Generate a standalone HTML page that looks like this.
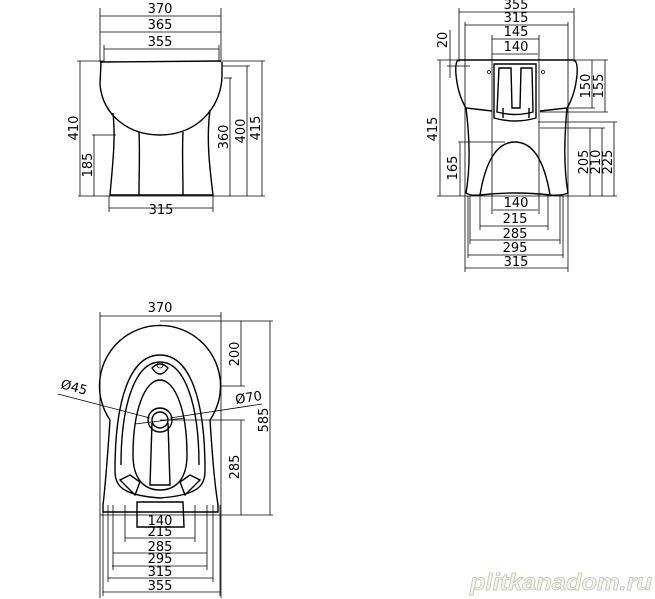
<!DOCTYPE html>
<html><head><meta charset="utf-8"><style>
html,body{margin:0;padding:0;background:#fff;width:655px;height:599px;overflow:hidden}
svg{display:block}
text{font-family:"DejaVu Sans","Liberation Sans",sans-serif;font-size:13px;fill:#000}
.l{stroke:#000;stroke-width:1;fill:none}
.t{stroke:#000;stroke-width:0.8;fill:none}
.b{stroke:#000;stroke-width:1.4;fill:none}
</style></head><body>
<svg width="655" height="599" viewBox="0 0 655 599" xmlns="http://www.w3.org/2000/svg">
<!-- ===== FRONT VIEW ===== -->
<g class="t">
<line x1="100" y1="8" x2="100" y2="62"/><line x1="221" y1="8" x2="221" y2="62"/>
<line x1="104" y1="45" x2="104" y2="62"/><line x1="219" y1="45" x2="219" y2="62"/>
<line x1="100" y1="16" x2="221" y2="16"/>
<line x1="100" y1="32" x2="221" y2="32"/>
<line x1="104" y1="49" x2="219" y2="49"/>
<line x1="109" y1="196" x2="109" y2="212"/><line x1="213" y1="196" x2="213" y2="212"/>
<line x1="109" y1="208" x2="213" y2="208"/>
<line x1="77" y1="61" x2="104" y2="61"/>
<line x1="80" y1="61" x2="80" y2="196"/>
<line x1="92" y1="135" x2="116" y2="135"/>
<line x1="94" y1="135" x2="94" y2="196"/>
<line x1="222" y1="61" x2="265" y2="61"/>
<line x1="222" y1="66" x2="250" y2="66"/>
<line x1="224" y1="78" x2="232" y2="78"/>
<line x1="230" y1="78" x2="230" y2="196"/>
<line x1="247" y1="66" x2="247" y2="196"/>
<line x1="262" y1="61" x2="262" y2="196"/>
<line x1="78" y1="196" x2="265" y2="196"/>
</g>
<g class="b">
<path d="M100,62 L221,61 M101,62 L100,85 C103,115 128,135 160,135 C195,135 220,110 222,78 L222,62"/>
<path d="M113,113 C116,140 112,170 110,195 L213,195 C210,170 206,140 210,110"/>
<path d="M139,132 C140,150 139,175 139,195 M183,132 C182,150 183,175 183,195"/>
</g>
<text x="160" y="13" text-anchor="middle">370</text>
<text x="160" y="29" text-anchor="middle">365</text>
<text x="160" y="46" text-anchor="middle">355</text>
<text x="161" y="214" text-anchor="middle">315</text>
<text transform="translate(78,128) rotate(-90)" text-anchor="middle">410</text>
<text transform="translate(92,165) rotate(-90)" text-anchor="middle">185</text>
<text transform="translate(228,137) rotate(-90)" text-anchor="middle">360</text>
<text transform="translate(245,131) rotate(-90)" text-anchor="middle">400</text>
<text transform="translate(260,128) rotate(-90)" text-anchor="middle">415</text>

<!-- ===== SIDE VIEW ===== -->
<g class="t">
<line x1="459" y1="8" x2="459" y2="62"/><line x1="574" y1="8" x2="574" y2="62"/>
<line x1="459" y1="12" x2="574" y2="12"/>
<line x1="465" y1="25" x2="568" y2="25"/>
<line x1="465" y1="22" x2="465" y2="272"/><line x1="568" y1="22" x2="568" y2="272"/>
<line x1="492" y1="35" x2="492" y2="214"/><line x1="539" y1="35" x2="539" y2="214"/>
<line x1="492" y1="39" x2="539" y2="39"/>
<line x1="492" y1="54" x2="538" y2="54"/>
<line x1="493" y1="210" x2="538" y2="210"/>
<line x1="480" y1="196" x2="480" y2="230"/><line x1="548" y1="196" x2="548" y2="230"/>
<line x1="480" y1="226" x2="548" y2="226"/>
<line x1="470" y1="196" x2="470" y2="244"/><line x1="560" y1="196" x2="560" y2="244"/>
<line x1="470" y1="240" x2="560" y2="240"/>
<line x1="468" y1="196" x2="468" y2="258"/><line x1="563" y1="196" x2="563" y2="258"/>
<line x1="468" y1="255" x2="563" y2="255"/>
<line x1="465" y1="268" x2="568" y2="268"/>
<line x1="437" y1="60" x2="470" y2="60"/>
<line x1="447" y1="66" x2="470" y2="66"/>
<line x1="450" y1="30" x2="450" y2="78"/>
<line x1="440" y1="60" x2="440" y2="196"/>
<line x1="458" y1="142" x2="505" y2="142"/>
<line x1="460" y1="142" x2="460" y2="196"/>
<line x1="574" y1="60" x2="608" y2="60"/>
<line x1="568" y1="108" x2="595" y2="108"/>
<line x1="540" y1="112" x2="608" y2="112"/>
<line x1="592" y1="60" x2="592" y2="108"/>
<line x1="605" y1="60" x2="605" y2="112"/>
<line x1="538" y1="122" x2="617" y2="122"/>
<line x1="540" y1="128" x2="605" y2="128"/>
<line x1="590" y1="128" x2="590" y2="196"/>
<line x1="602" y1="128" x2="602" y2="196"/>
<line x1="614" y1="122" x2="614" y2="196"/>
<line x1="437" y1="196" x2="617" y2="196"/>
</g>
<g class="b">
<path d="M458,60 L574,60 Q578,62 577,75 Q575,95 567,108 L540,111 M458,60 Q455,62 456,75 Q458,95 466,108 L492,111"/>
<path d="M466,108 C470,140 470,170 466,193 Q470,196 480,195 C485,165 495,142 515,142 C535,142 545,165 550,195 Q562,196 568,193 C564,170 564,140 567,108"/>
<path d="M480,195 Q515,191 550,195"/>
<path d="M494,64 L536,64 L536,118 Q515,124 494,118 Z"/>
<path d="M499,68 L511,68 L512,108 L520,108 L521,68 L532,68 L533,112 Q515,117 497,112 Z"/>
<path d="M503,108 L503,118 M529,108 L529,118"/>
</g>
<circle cx="489" cy="72" r="1.5" class="t"/><circle cx="543" cy="72" r="1.5" class="t"/>
<text x="516" y="9" text-anchor="middle">355</text>
<text x="516" y="22" text-anchor="middle">315</text>
<text x="516" y="36" text-anchor="middle">145</text>
<text x="516" y="51" text-anchor="middle">140</text>
<text x="516" y="207" text-anchor="middle">140</text>
<text x="515" y="223" text-anchor="middle">215</text>
<text x="515" y="238" text-anchor="middle">285</text>
<text x="515" y="252" text-anchor="middle">295</text>
<text x="516" y="266" text-anchor="middle">315</text>
<text transform="translate(447,40) rotate(-90)" text-anchor="middle">20</text>
<text transform="translate(437,129) rotate(-90)" text-anchor="middle">415</text>
<text transform="translate(457,168) rotate(-90)" text-anchor="middle">165</text>
<text transform="translate(590,86) rotate(-90)" text-anchor="middle">150</text>
<text transform="translate(603,86) rotate(-90)" text-anchor="middle">155</text>
<text transform="translate(588,162) rotate(-90)" text-anchor="middle">205</text>
<text transform="translate(600,162) rotate(-90)" text-anchor="middle">210</text>
<text transform="translate(612,162) rotate(-90)" text-anchor="middle">225</text>

<!-- ===== TOP VIEW ===== -->
<g class="t">
<line x1="100" y1="312" x2="100" y2="598"/><line x1="221" y1="312" x2="221" y2="598"/>
<line x1="100" y1="316" x2="221" y2="316"/>
<line x1="160" y1="321" x2="273" y2="321"/>
<line x1="221" y1="386" x2="245" y2="386"/>
<line x1="241" y1="321" x2="241" y2="386"/>
<line x1="160" y1="420" x2="245" y2="420"/>
<line x1="241" y1="420" x2="241" y2="515"/>
<line x1="270" y1="321" x2="270" y2="515"/>
<line x1="100" y1="515" x2="273" y2="515"/>
<line x1="137" y1="527" x2="183" y2="527"/>
<line x1="125" y1="505" x2="125" y2="542"/><line x1="195" y1="505" x2="195" y2="542"/>
<line x1="125" y1="538" x2="195" y2="538"/>
<line x1="113" y1="505" x2="113" y2="570"/><line x1="207" y1="505" x2="207" y2="570"/>
<line x1="113" y1="553" x2="207" y2="553"/>
<line x1="112" y1="566" x2="207" y2="566"/>
<line x1="108" y1="505" x2="108" y2="582"/><line x1="213" y1="505" x2="213" y2="582"/>
<line x1="108" y1="578" x2="213" y2="578"/>
<line x1="103" y1="505" x2="103" y2="596"/><line x1="220" y1="505" x2="220" y2="596"/>
<line x1="103" y1="592" x2="220" y2="592"/>
<line x1="58" y1="394" x2="150" y2="418"/>
<line x1="262" y1="404" x2="170" y2="418"/>
<line x1="135" y1="424" x2="185" y2="418"/>
</g>
<g class="b">
<path d="M110,420 A60.5,60.5 0 1 1 210,420"/>
<path d="M110,420 C108,450 106,480 103,505 L103,512 L218,512 L218,505 C214,480 212,450 210,420"/>
<path d="M115,470 C115,400 130,355 160,355 C190,355 205,400 205,470 C205,485 200,495 160,498 C120,495 115,485 115,470 Z"/>
<path d="M121,465 C121,405 135,362 160,362 C185,362 199,405 199,465"/>
<path d="M133,455 C133,410 145,380 160,380 C175,380 187,410 187,455 C187,480 175,490 160,490 C145,490 133,480 133,455 Z"/>
<path d="M152,423 L150,485 L170,485 L168,423"/>
<path d="M120,480 L130,475 L140,482 L135,495 Z M200,480 L190,475 L180,482 L185,495 Z"/>
<path d="M137,502 L183,502 L184,527 L137,527 Z"/>
<path d="M152,368 Q160,380 168,368 Q160,360 152,368 Z"/>
</g>
<circle cx="160" cy="420" r="12" class="b"/>
<circle cx="160" cy="420" r="8" class="b"/>
<circle cx="160" cy="365" r="3" class="t"/>
<text x="160" y="312" text-anchor="middle">370</text>
<text x="160" y="525" text-anchor="middle">140</text>
<text x="160" y="536" text-anchor="middle">215</text>
<text x="160" y="551" text-anchor="middle">285</text>
<text x="160" y="563" text-anchor="middle">295</text>
<text x="160" y="576" text-anchor="middle">315</text>
<text x="160" y="590" text-anchor="middle">355</text>
<text transform="translate(60,388) rotate(15)">Ø45</text>
<text transform="translate(236,404) rotate(-9)">Ø70</text>
<text transform="translate(239,354) rotate(-90)" text-anchor="middle">200</text>
<text transform="translate(239,467) rotate(-90)" text-anchor="middle">285</text>
<text transform="translate(268,420) rotate(-90)" text-anchor="middle">585</text>

<text x="470" y="590" textLength="182" lengthAdjust="spacingAndGlyphs" style="font-family:'Liberation Sans',sans-serif;font-size:23px;font-weight:bold;font-style:italic;fill:#f4f4ee;stroke:#c0c0b0;stroke-width:0.7">plitkanadom.ru</text>
</svg>
</body></html>
